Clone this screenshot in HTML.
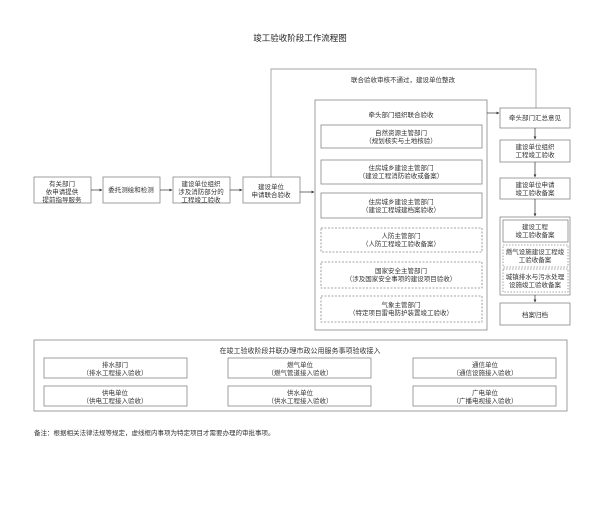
<!DOCTYPE html>
<html><head><meta charset="utf-8"><style>
body{margin:0;background:#fff}
svg text{font-family:"Liberation Sans","Noto Sans CJK SC",sans-serif;font-size:6.5px;fill:#333;text-anchor:middle}
</style></head><body>
<svg width="600" height="508" viewBox="0 0 600 508" xmlns="http://www.w3.org/2000/svg">
<defs><marker id="a" markerWidth="4" markerHeight="4" refX="3.5" refY="2" orient="auto"><path d="M0,0 L4,2 L0,4z" fill="#333"/></marker></defs>
<g fill="#fff" stroke="#888" stroke-width="0.8">
<text x="300" y="41" style="font-size:8.5px;fill:#222;stroke:none">竣工验收阶段工作流程图</text>
<rect x="34" y="177" width="57" height="26"/>
<rect x="103" y="177" width="57" height="26"/>
<rect x="173" y="177" width="57" height="26"/>
<rect x="243" y="177" width="57" height="26"/>
<rect x="315" y="100" width="172" height="230"/>
<rect x="321" y="125" width="161" height="23"/>
<rect x="321" y="160" width="161" height="24"/>
<rect x="321" y="193" width="161" height="25"/>
<rect x="321" y="228" width="161" height="24" stroke-dasharray="2,1.5"/>
<rect x="321" y="262" width="161" height="26" stroke-dasharray="2,1.5"/>
<rect x="321" y="296" width="161" height="26" stroke-dasharray="2,1.5"/>
<rect x="500" y="108" width="70" height="20"/>
<rect x="500" y="140" width="70" height="22"/>
<rect x="500" y="178" width="70" height="21"/>
<rect x="500" y="217" width="70" height="78"/>
<rect x="503" y="220" width="65" height="22"/>
<rect x="503" y="245" width="65" height="22" stroke-dasharray="1.5,1.5"/>
<rect x="503" y="269" width="65" height="23" stroke-dasharray="1.5,1.5"/>
<rect x="500" y="303" width="70" height="22"/>
<rect x="34" y="340" width="533" height="71"/>
<rect x="44" y="358" width="143" height="20"/><rect x="228" y="358" width="143" height="20"/><rect x="413" y="358" width="143" height="20"/>
<rect x="44" y="386" width="143" height="20"/><rect x="228" y="386" width="143" height="20"/><rect x="413" y="386" width="143" height="20"/>
</g>
<g stroke="#333" stroke-width="0.7" fill="none">
<line x1="91" y1="190" x2="102" y2="190" marker-end="url(#a)"/>
<line x1="160" y1="190" x2="172" y2="190" marker-end="url(#a)"/>
<line x1="230" y1="190" x2="242" y2="190" marker-end="url(#a)"/>
<line x1="300" y1="192" x2="314" y2="192" marker-end="url(#a)"/>
<line x1="487" y1="113" x2="499" y2="113" marker-end="url(#a)"/>
<polyline points="271,177 271,69 536,69 536,108" stroke="#888"/>
<line x1="535" y1="128" x2="535" y2="139" marker-end="url(#a)"/>
<line x1="535" y1="162" x2="535" y2="177" marker-end="url(#a)"/>
<line x1="535" y1="199" x2="535" y2="216" marker-end="url(#a)"/>
<line x1="535" y1="295" x2="535" y2="302" marker-end="url(#a)"/>
</g>
<text x="403" y="82">联合验收审核不通过，建设单位整改</text>
<text x="62" y="186">有关部门</text><text x="62" y="194">依申请提供</text><text x="62" y="202">提前指导服务</text>
<text x="131" y="192">委托测绘和检测</text>
<text x="201" y="186">建设单位组织</text><text x="201" y="194">涉及消防部分的</text><text x="201" y="202">工程竣工验收</text>
<text x="271" y="189">建设单位</text><text x="271" y="197">申请联合验收</text>
<text x="401" y="117">牵头部门组织联合验收</text>
<text x="401" y="135">自然资源主管部门</text><text x="401" y="143">（规划核实与土地核验）</text>
<text x="401" y="170">住房城乡建设主管部门</text><text x="401" y="178">（建设工程消防验收或备案）</text>
<text x="401" y="204">住房城乡建设主管部门</text><text x="401" y="212">（建设工程城建档案验收）</text>
<text x="401" y="238">人防主管部门</text><text x="401" y="246">（人防工程竣工验收备案）</text>
<text x="401" y="273">国家安全主管部门</text><text x="401" y="281">（涉及国家安全事项的建设项目验收）</text>
<text x="401" y="307">气象主管部门</text><text x="401" y="315">（特定项目雷电防护装置竣工验收）</text>
<text x="535" y="120">牵头部门汇总意见</text>
<text x="535" y="149">建设单位组织</text><text x="535" y="157">工程竣工验收</text>
<text x="535" y="187">建设单位申请</text><text x="535" y="195">竣工验收备案</text>
<text x="535" y="229">建设工程</text><text x="535" y="237">竣工验收备案</text>
<text x="535" y="254">燃气设施建设工程竣</text><text x="535" y="262">工验收备案</text>
<text x="535" y="279">城镇排水与污水处理</text><text x="535" y="287">设施竣工验收备案</text>
<text x="535" y="317">档案归档</text>
<text x="300" y="353" style="font-size:7px">在竣工验收阶段并联办理市政公用服务事项验收接入</text>
<text x="115" y="367">排水部门</text><text x="115" y="375">（排水工程接入验收）</text>
<text x="300" y="367">燃气单位</text><text x="300" y="375">（燃气管道接入验收）</text>
<text x="485" y="367">通信单位</text><text x="485" y="375">（通信设施接入验收）</text>
<text x="115" y="395">供电单位</text><text x="115" y="403">（供电工程接入验收）</text>
<text x="300" y="395">供水单位</text><text x="300" y="403">（供水工程接入验收）</text>
<text x="485" y="395">广电单位</text><text x="485" y="403">（广播电视接入验收）</text>
<text x="34" y="435" style="text-anchor:start">备注：根据相关法律法规等规定，虚线框内事项为特定项目才需要办理的审批事项。</text>
</svg>
</body></html>
